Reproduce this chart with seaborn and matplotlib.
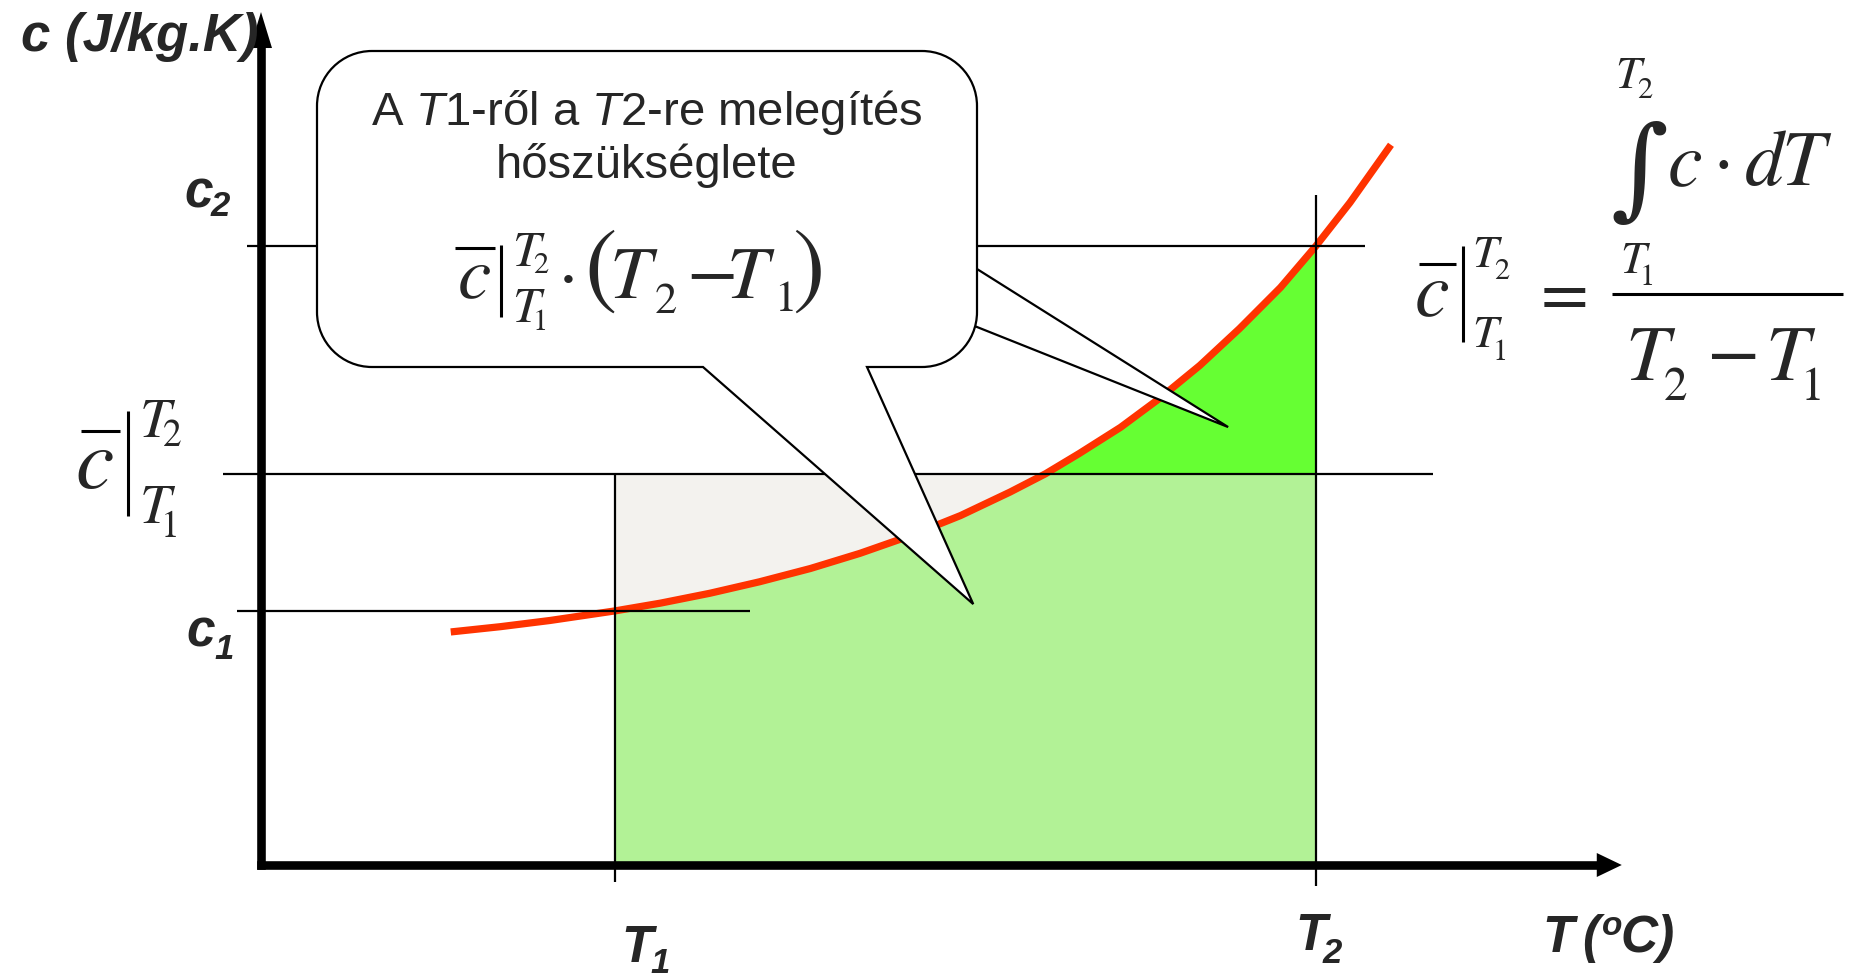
import numpy as np
import matplotlib
matplotlib.use("Agg")
import matplotlib.pyplot as plt
from matplotlib.path import Path
from matplotlib.patches import PathPatch, Polygon
import seaborn as sns

# Specific heat c (J/kg.K) as a function of temperature T (°C)
T_curve = [13.4, 16.9, 20.4, 25.0, 28.2, 31.7, 35.2, 38.8, 42.3, 45.8, 49.4,
           52.9, 55.4, 57.8, 60.7, 63.5, 66.3, 69.1, 72.0, 74.5, 76.9, 79.8]
c_curve = [753, 770, 790, 821, 846, 878, 915, 958, 1007, 1063, 1129,
           1205, 1264, 1330, 1414, 1509, 1614, 1733, 1866, 2000, 2140, 2327]

T1, T2 = 25.0, 74.5          # heating interval
c1, c2 = 821, 2000           # c(T1), c(T2)
c_mean = 1264                # mean specific heat over [T1, T2]

# ---- layout -------------------------------------------------------------
W, H = 1861, 979
ORIGIN_X, ORIGIN_Y = 261, 866        # axes origin in pixels (from top-left)
PX_PER_T, PX_PER_C = 14.16, 0.3095
T_AXIS_END, C_AXIS_END = 96.1, 2756

LIGHT_GREEN = "#b2f296"
BRIGHT_GREEN = "#66ff33"
PALE_GREY = "#f3f2ee"
RED = "#ff3300"
SERIF = "STIXGeneral"

sns.set_theme(style="white")
plt.rcParams["font.family"] = ["Liberation Sans", "DejaVu Sans"]
plt.rcParams["mathtext.fontset"] = "custom"
plt.rcParams["mathtext.rm"] = "Liberation Sans"
plt.rcParams["mathtext.it"] = "Liberation Sans:italic"

fig = plt.figure(figsize=(W / 100, H / 100), dpi=100)
fig.patch.set_facecolor("white")

ax = fig.add_axes([0, 0, 1, 1])
ax.set_axis_off()
ax.set_xlim(-ORIGIN_X / PX_PER_T, (W - ORIGIN_X) / PX_PER_T)
ax.set_ylim(-(H - ORIGIN_Y) / PX_PER_C, ORIGIN_Y / PX_PER_C)

# pixel-based layer for the callout and the lettering
ov = fig.add_axes([0, 0, 1, 1], zorder=3)
ov.set_axis_off()
ov.patch.set_visible(False)
ov.set_xlim(0, W)
ov.set_ylim(H, 0)


def to_px(T, c):
    x, y = ax.transData.transform((T, c))
    return x, H - y


# ---- areas under / around the curve --------------------------------------
Tc = np.array(T_curve)
cc = np.array(c_curve, dtype=float)
inside = (Tc >= T1) & (Tc <= T2)
Ts, cs = Tc[inside], cc[inside]

ax.fill_between(Ts, 0, np.minimum(cs, c_mean), color=LIGHT_GREEN, lw=0, zorder=1)
ax.fill_between(Ts, cs, c_mean, where=cs <= c_mean, interpolate=True,
                color=PALE_GREY, lw=0, zorder=1)
ax.fill_between(Ts, c_mean, cs, where=cs >= c_mean, interpolate=True,
                color=BRIGHT_GREEN, lw=0, zorder=1)

sns.lineplot(x=Tc, y=cc, ax=ax, color=RED, lw=5.2, sort=False,
             estimator=None, zorder=3, solid_capstyle="butt")

# ---- guide lines ------------------------------------------------------------
thin = dict(color="black", lw=1.6, zorder=4, solid_capstyle="butt")
ax.plot([-1.0, 78.0], [c2, c2], **thin)
ax.plot([-2.7, 82.8], [c_mean, c_mean], **thin)
ax.plot([-1.7, 34.5], [c1, c1], **thin)
ax.plot([T2, T2], [-68, 2165], **thin)
ax.plot([T1, T1], [-55, c_mean], **thin)

# ---- axes with arrow heads -----------------------------------------------
HEAD_X, HEAD_Y = 25, 36     # arrow head lengths in pixels
ax.plot([0, T_AXIS_END - HEAD_X / PX_PER_T], [0, 0], color="black", lw=6.2,
        solid_capstyle="projecting", zorder=5)
ax.plot([0, 0], [0, C_AXIS_END - HEAD_Y / PX_PER_C], color="black", lw=6.2,
        solid_capstyle="projecting", zorder=5)
tx, ty = to_px(T_AXIS_END, 0)
ov.add_patch(Polygon([(tx, ty), (tx - HEAD_X, ty - 12), (tx - HEAD_X, ty + 12)],
                     closed=True, fc="black", ec="none", zorder=1))
ux, uy = to_px(0, C_AXIS_END)
ov.add_patch(Polygon([(ux, uy), (ux - 11, uy + HEAD_Y), (ux + 11, uy + HEAD_Y)],
                     closed=True, fc="black", ec="none", zorder=1))

# ---- callout bubble -------------------------------------------------------
BX0, BX1, BY0, BY1, R = 317, 977, 52, 368, 55
K = 0.5523 * R
tip_main = to_px(50.3, 843)
tip_thin = to_px(68.3, 1415)

# thin pointer coming from behind the bubble
e_top, e_bot = np.array([BX1, 270.0]), np.array([BX1, 328.0])
tt = np.array(tip_thin)
thin_tail = [e_top + (e_top - tt) * 0.15, tt, e_bot + (e_bot - tt) * 0.15]
ov.add_patch(Polygon(thin_tail, closed=True, fc="white", ec="black", lw=1.6, zorder=4))

verts = [
    (BX0 + R, BY0), (BX1 - R, BY0),
    (BX1 - R + K, BY0), (BX1, BY0 + R - K), (BX1, BY0 + R),
    (BX1, BY1 - R),
    (BX1, BY1 - R + K), (BX1 - R + K, BY1), (BX1 - R, BY1),
    (867, BY1), tip_main, (703, BY1),
    (BX0 + R, BY1),
    (BX0 + R - K, BY1), (BX0, BY1 - R + K), (BX0, BY1 - R),
    (BX0, BY0 + R),
    (BX0, BY0 + R - K), (BX0 + R - K, BY0), (BX0 + R, BY0),
    (BX0 + R, BY0),
]
codes = ([Path.MOVETO, Path.LINETO] + [Path.CURVE4] * 3 + [Path.LINETO]
         + [Path.CURVE4] * 3 + [Path.LINETO] * 4 + [Path.CURVE4] * 3
         + [Path.LINETO] + [Path.CURVE4] * 3 + [Path.CLOSEPOLY])
ov.add_patch(PathPatch(Path(verts, codes), fc="white", ec="black", lw=1.6,
                       zorder=5, joinstyle="miter"))

ov.text(647, 125, "A $\\mathit{T1}$-ről a $\\mathit{T2}$-re melegítés", fontsize=34,
        ha="center", va="baseline", zorder=6)
ov.text(647, 178, "hőszükséglete", fontsize=34, ha="center", va="baseline", zorder=6)


# ---- formulas (Times-style lettering) ------------------------------------
def serif(x, y, s, size, italic=False, ha="left", family=SERIF):
    ov.text(x, y, s, fontsize=size, family=family,
            fontstyle="italic" if italic else "normal",
            ha=ha, va="baseline", zorder=6)


def stroke(x0, x1, y0, y1, lw=2.2):
    ov.plot([x0, x1], [y0, y1], color="black", lw=lw, zorder=6,
            solid_capstyle="butt")


def mean_c(x, y, c_size, over, vbar, sup, sub, lim_size, idx_size):
    """c with an overbar and the |_{T1}^{T2} evaluation bar."""
    serif(x, y, "c", c_size, italic=True)
    stroke(over[0], over[1], over[2], over[2])
    stroke(vbar[0], vbar[0], vbar[1], vbar[2])
    serif(sup[0], sup[1], "T", lim_size, italic=True)
    serif(sup[2], sup[3], "2", idx_size)
    serif(sub[0], sub[1], "T", lim_size, italic=True)
    serif(sub[2], sub[3], "1", idx_size)


# inside the bubble:  c̄|  · (T2 − T1)
mean_c(458, 297, 54, (455, 495, 249), (501, 246, 318),
       (512, 266, 533, 273), (512, 322, 533, 330), 36, 22)
serif(568, 298, "·", 54, ha="center")
serif(584, 296, "(", 70)
serif(610, 298, "T", 54, italic=True)
serif(655, 313, "2", 32)
serif(686, 294, "−", 54)
serif(727, 298, "T", 54, italic=True)
serif(774, 311, "1", 32)
serif(792, 296, ")", 70)

# definition of the mean value on the right
mean_c(1415, 315, 56, (1419, 1456, 265), (1463, 247, 343),
       (1472, 267, 1494, 279), (1472, 347, 1493, 360), 33, 22)
serif(1541, 315, "=", 50)
serif(1639, 205, "∫", 80, ha="center", family="DejaVu Serif")
serif(1615, 88, "T", 33, italic=True)
serif(1637, 98, "2", 22)
serif(1620, 273, "T", 33, italic=True)
serif(1640, 285, "1", 22)
serif(1668, 185, "c", 56, italic=True)
serif(1723, 185, "·", 56, ha="center")
serif(1745, 185, "d", 56, italic=True)
serif(1781, 185, "T", 56, italic=True)
stroke(1612, 1843, 295, 295)
serif(1625, 380, "T", 56, italic=True)
serif(1664, 400, "2", 34)
serif(1706, 376, "−", 56)
serif(1765, 380, "T", 56, italic=True)
serif(1801, 400, "1", 34)

# mean value label beside the vertical axis
mean_c(75, 488, 62, (81, 120, 432), (128, 412, 517),
       (140, 437, 163, 446), (140, 523, 161, 537), 40, 27)

# ---- axis labels ------------------------------------------------------------
bi = dict(fontweight="bold", fontstyle="italic", va="baseline", ha="left", zorder=6)
ov.text(21, 51, "c (J/kg.K)", fontsize=38, **bi)
ov.text(184, 208, "c", fontsize=37, **bi)
ov.text(211, 216, "2", fontsize=25, **bi)
ov.text(186, 647, "c", fontsize=37, **bi)
ov.text(214, 659, "1", fontsize=25, **bi)
ov.text(621, 962, "T", fontsize=37, **bi)
ov.text(650, 973, "1", fontsize=25, **bi)
ov.text(1295, 950, "T", fontsize=37, **bi)
ov.text(1323, 963, "2", fontsize=25, **bi)
ov.text(1542, 952, "T", fontsize=37, **bi)
ov.text(1582, 952, "(", fontsize=37, **bi)
ov.text(1602, 935, "o", fontsize=24, **bi)
ov.text(1620, 952, "C)", fontsize=37, **bi)

fig.savefig("out.png", dpi=100, facecolor="white")
